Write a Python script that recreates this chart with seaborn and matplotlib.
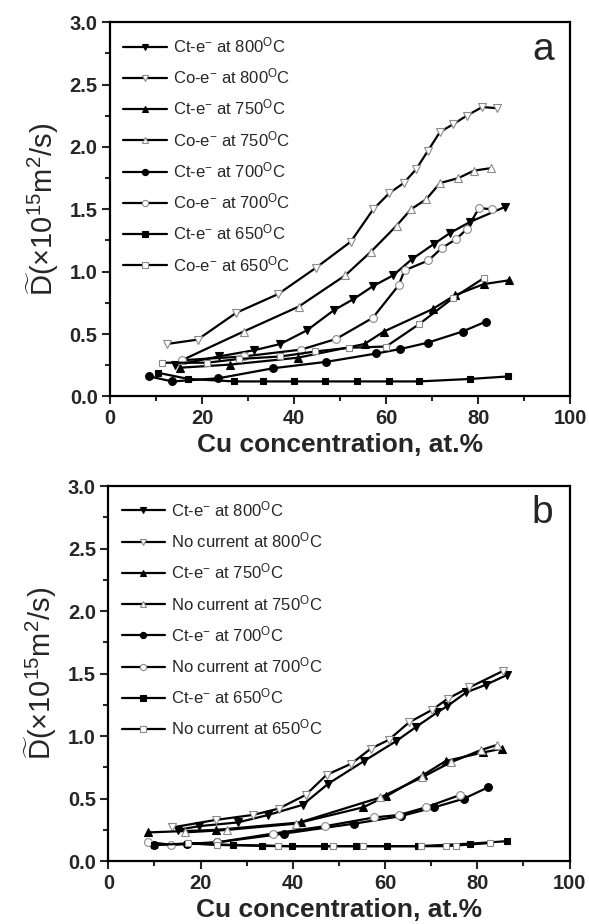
import numpy as np
import pandas as pd
import matplotlib
matplotlib.use("Agg")
import matplotlib.pyplot as plt
from matplotlib.ticker import MultipleLocator, FormatStrFormatter
import seaborn as sns

sns.set_style("white")
plt.rcParams['font.family'] = ['Liberation Sans', 'DejaVu Sans']
plt.rcParams['mathtext.fontset'] = 'custom'
plt.rcParams['mathtext.rm'] = 'Liberation Sans'
plt.rcParams['mathtext.it'] = 'Liberation Sans:italic'
plt.rcParams['mathtext.bf'] = 'Liberation Sans:bold'

# ---- panel a: Ct-e- vs Co-e- ----
a_ct800_x = [14.1, 23.6, 31.3, 37.0, 42.8, 48.6, 52.9, 57.2, 61.5, 65.6, 70.3, 73.9, 78.3, 85.9]
a_ct800_y = [0.25, 0.32, 0.37, 0.42, 0.53, 0.69, 0.78, 0.885, 0.97, 1.10, 1.22, 1.31, 1.40, 1.52]
a_co800_x = [12.3, 19.0, 27.4, 36.5, 44.7, 52.3, 57.2, 60.7, 63.8, 66.5, 69.1, 71.7, 74.5, 77.5, 80.9, 84.1]
a_co800_y = [0.42, 0.455, 0.67, 0.82, 1.03, 1.24, 1.50, 1.63, 1.71, 1.82, 1.97, 2.12, 2.18, 2.25, 2.32, 2.31]
a_ct750_x = [15.2, 26.1, 40.8, 55.3, 59.5, 70.1, 74.9, 81.2, 86.6]
a_ct750_y = [0.23, 0.255, 0.31, 0.42, 0.52, 0.70, 0.81, 0.90, 0.93]
a_co750_x = [15.6, 29.0, 41.0, 51.1, 56.7, 62.3, 65.4, 68.7, 71.7, 75.7, 79.1, 82.8]
a_co750_y = [0.29, 0.52, 0.72, 0.97, 1.16, 1.37, 1.50, 1.58, 1.71, 1.75, 1.81, 1.83]
a_ct700_x = [8.5, 13.5, 23.5, 35.5, 47.0, 57.9, 63.1, 69.0, 76.6, 81.7]
a_ct700_y = [0.16, 0.12, 0.145, 0.226, 0.277, 0.344, 0.38, 0.43, 0.52, 0.60]
a_co700_x = [15.6, 29.0, 41.5, 49.1, 57.1, 62.7, 64.0, 69.2, 72.1, 75.2, 77.5, 80.2, 83.0]
a_co700_y = [0.29, 0.32, 0.375, 0.46, 0.63, 0.89, 1.01, 1.09, 1.19, 1.26, 1.34, 1.51, 1.50]
a_ct650_x = [10.3, 17.0, 27.0, 33.2, 39.9, 46.8, 53.6, 60.7, 67.2, 78.3, 86.5]
a_ct650_y = [0.19, 0.14, 0.12, 0.12, 0.12, 0.12, 0.12, 0.12, 0.12, 0.14, 0.16]
a_co650_x = [11.3, 21.0, 28.0, 37.0, 44.6, 52.0, 60.0, 67.2, 74.6, 81.3]
a_co650_y = [0.27, 0.27, 0.30, 0.32, 0.36, 0.39, 0.40, 0.58, 0.79, 0.95]

# ---- panel b: Ct-e- vs no current ----
b_ct800_x = [15.0, 19.7, 28.1, 34.7, 42.1, 47.7, 55.4, 62.4, 66.6, 71.3, 73.5, 77.6, 81.8, 86.5]
b_ct800_y = [0.25, 0.28, 0.31, 0.37, 0.45, 0.62, 0.80, 0.96, 1.07, 1.19, 1.24, 1.35, 1.41, 1.49]
b_nc800_x = [13.9, 23.3, 31.4, 36.9, 42.8, 47.3, 52.7, 56.9, 60.8, 65.2, 70.2, 73.6, 78.3, 85.5]
b_nc800_y = [0.27, 0.33, 0.37, 0.42, 0.53, 0.69, 0.78, 0.90, 0.97, 1.11, 1.21, 1.30, 1.39, 1.52]
b_ct750_x = [8.7, 23.3, 41.7, 55.2, 60.3, 68.3, 73.1, 81.3, 85.4]
b_ct750_y = [0.23, 0.25, 0.31, 0.43, 0.52, 0.69, 0.80, 0.87, 0.90]
b_nc750_x = [16.6, 25.8, 40.6, 59.0, 68.0, 74.2, 80.9, 84.3]
b_nc750_y = [0.23, 0.25, 0.30, 0.51, 0.67, 0.79, 0.89, 0.93]
b_ct700_x = [10.0, 17.0, 23.5, 38.0, 53.3, 63.4, 70.6, 77.1, 82.3]
b_ct700_y = [0.13, 0.14, 0.15, 0.22, 0.30, 0.36, 0.43, 0.50, 0.59]
b_nc700_x = [8.5, 13.6, 23.5, 35.6, 47.0, 57.7, 63.1, 68.8, 76.3]
b_nc700_y = [0.155, 0.13, 0.15, 0.22, 0.28, 0.35, 0.37, 0.43, 0.53]
b_ct650_x = [10.0, 17.0, 27.1, 33.3, 39.8, 46.8, 53.8, 60.5, 67.1, 78.4, 86.4]
b_ct650_y = [0.13, 0.14, 0.13, 0.125, 0.12, 0.12, 0.12, 0.12, 0.12, 0.14, 0.16]
b_nc650_x = [17.3, 23.5, 36.7, 48.6, 55.2, 67.8, 73.1, 75.3, 82.7]
b_nc650_y = [0.145, 0.13, 0.12, 0.12, 0.12, 0.12, 0.12, 0.125, 0.145]

temps = ['800', '750', '700', '650']
markers = {'800': 'v', '750': '^', '700': 'o', '650': 's'}
msizes = {'800': 6.2, '750': 6.2, '700': 5.6, '650': 5.0}


def lab(prefix, t):
    return prefix + ' at ' + t + r'$^{\mathrm{O}}$C'


panel_a = []
panel_b = []
for t in temps:
    panel_a.append((globals()['a_ct' + t + '_x'], globals()['a_ct' + t + '_y'], t, True, lab(r'Ct-e$^{-}$', t)))
    panel_a.append((globals()['a_co' + t + '_x'], globals()['a_co' + t + '_y'], t, False, lab(r'Co-e$^{-}$', t)))
    panel_b.append((globals()['b_ct' + t + '_x'], globals()['b_ct' + t + '_y'], t, True, lab(r'Ct-e$^{-}$', t)))
    panel_b.append((globals()['b_nc' + t + '_x'], globals()['b_nc' + t + '_y'], t, False, lab('No current', t)))

fig = plt.figure(figsize=(5.89, 9.24), dpi=100)
ax_a = fig.add_axes([0.187, 0.571, 0.781, 0.405])
ax_b = fig.add_axes([0.184, 0.068, 0.783, 0.406])

for ax, series, letter in [(ax_a, panel_a, 'a'), (ax_b, panel_b, 'b')]:
    for xs, ys, t, filled, label in series:
        sns.lineplot(x=xs, y=ys, ax=ax, color='black', linewidth=1.6,
                     marker=markers[t], markersize=msizes[t],
                     markerfacecolor='black' if filled else 'white',
                     markeredgecolor='black' if filled else '#8a8a8a',
                     markeredgewidth=0.8, label=label)

    ax.set_xlim(0, 100)
    ax.set_ylim(0, 3.0)
    ax.xaxis.set_major_locator(MultipleLocator(20))
    ax.xaxis.set_minor_locator(MultipleLocator(10))
    ax.yaxis.set_major_locator(MultipleLocator(0.5))
    ax.yaxis.set_minor_locator(MultipleLocator(0.25))
    ax.yaxis.set_major_formatter(FormatStrFormatter('%.1f'))
    ax.tick_params(which='major', direction='out', length=6, width=1.5, pad=3,
                   labelsize=14.5, bottom=True, left=True, top=False, right=False)
    ax.tick_params(which='minor', direction='out', length=3.5, width=1.5,
                   bottom=True, left=True, top=False, right=False)
    for lb in ax.get_xticklabels() + ax.get_yticklabels():
        lb.set_fontweight('bold')
    for sp in ax.spines.values():
        sp.set_linewidth(1.6)
        sp.set_color('black')
    ax.set_xlabel('Cu concentration, at.%', fontsize=19, fontweight='bold', labelpad=4)
    ax.set_ylabel(r'$\widetilde{\mathrm{D}}$(×10$^{15}$m$^{2}$/s)', fontsize=21, labelpad=6)
    ax.text(0.965, 0.975, letter, transform=ax.transAxes, ha='right', va='top', fontsize=28)
    ax.legend(loc='upper left', frameon=False, fontsize=12, handlelength=2.6,
              handletextpad=0.35, labelspacing=0.68, borderaxespad=0.4,
              markerscale=0.8, bbox_to_anchor=(0.0, 1.0))

fig.savefig('out.png', dpi=100)
